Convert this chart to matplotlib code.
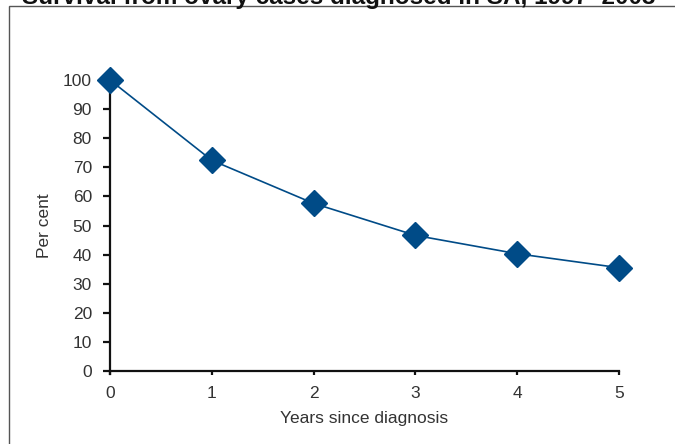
import matplotlib
matplotlib.use("Agg")
import matplotlib.pyplot as plt
from matplotlib.patches import Rectangle

years = [0, 1, 2, 3, 4, 5]
survival = [100, 72.4, 57.6, 46.6, 40.3, 35.5]
y_ticks = [0, 10, 20, 30, 40, 50, 60, 70, 80, 90, 100]
x_ticks = [0, 1, 2, 3, 4, 5]

title = "Survival from ovary cases diagnosed in SA, 1997\u20132003"
xlabel = "Years since diagnosis"
ylabel = "Per cent"

plt.rcParams['font.family'] = ['Liberation Sans', 'DejaVu Sans']

W, H = 675, 444
fig = plt.figure(figsize=(W / 100, H / 100), dpi=100)
ax = fig.add_axes([110 / W, 1 - 371 / H, (619 - 110) / W, (371 - 80) / H])

col = '#004b87'
ax.plot(years, survival, color=col, lw=1.2, marker='D', ms=13.5,
        markerfacecolor=col, markeredgecolor=col, clip_on=False, zorder=3)

ax.set_xlim(0, 5)
ax.set_ylim(0, 100)
ax.set_xticks(x_ticks)
ax.set_yticks(y_ticks)
for s in ['top', 'right']:
    ax.spines[s].set_visible(False)
for s in ['left', 'bottom']:
    ax.spines[s].set_linewidth(1.6)
    ax.spines[s].set_color('#111111')
ax.spines['left'].set_bounds(-1.2, 100)
ax.tick_params(axis='y', direction='out', length=5, width=1.6, color='#111111',
               labelsize=12.5, labelcolor='#333333', pad=8)
ax.tick_params(axis='x', direction='out', length=3, width=1.6, color='#111111',
               labelsize=12.5, labelcolor='#333333', pad=8)
ax.set_xlabel(xlabel, fontsize=12.5, color='#333333', labelpad=7)
ax.set_ylabel(ylabel, fontsize=12.5, color='#333333', labelpad=8)

fig.patches.append(Rectangle((9 / W, -0.1), 2, 1 - 6 / H + 0.1,
                             transform=fig.transFigure, fill=False,
                             edgecolor='#555555', lw=1.0))
fig.text(339 / W, 1 - 4 / H, title, ha='center', va='baseline',
         fontsize=17.5, fontweight='bold', color='#111111')

fig.savefig('out.png', dpi=100)
